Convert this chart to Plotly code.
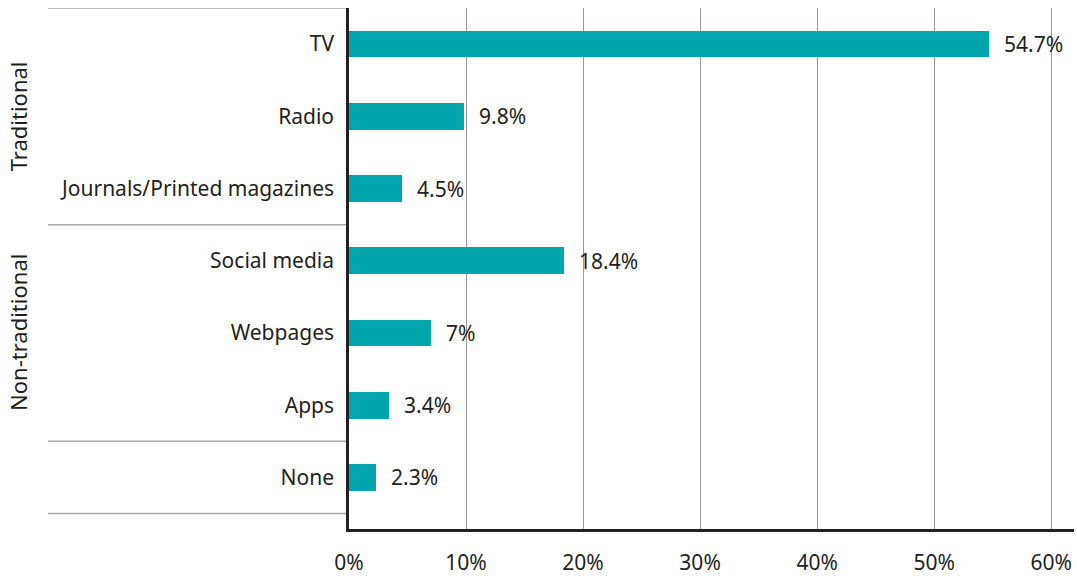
import plotly.graph_objects as go

# Media sources, top to bottom
categories = ["TV", "Radio", "Journals/Printed magazines",
              "Social media", "Webpages", "Apps", "None"]
shares = [54.7, 9.8, 4.5, 18.4, 7, 3.4, 2.3]

# Group labels and the category-index boundaries between groups
groups = ["Traditional", "Non-traditional"]
group_bounds = [(-0.5, 2.5), (2.5, 5.5)]
separators = [-0.5, 2.5, 5.5, 6.5]

x_ticks = [0, 10, 20, 30, 40, 50, 60]
x_tick_labels = [f"{t}%" for t in x_ticks]

BAR = "#00A5AD"
TEXT = "#231F20"
FONT = "Noto Sans"
FS = 21

fig = go.Figure()
fig.add_trace(go.Bar(
    x=shares, y=categories, orientation="h",
    marker=dict(color=BAR, line=dict(width=0)),
    width=0.37, hoverinfo="skip",
))

# Value labels right of each bar
for cat, v in zip(categories, shares):
    fig.add_annotation(
        x=v, y=cat, text=f"{v:g}%", showarrow=False,
        xanchor="left", yanchor="middle", xshift=13,
        font=dict(family=FONT, size=FS, color=TEXT),
    )

# Horizontal separators in the label column
L = 349
W = 1077 - L - 3
x0_paper = (48 - L) / W
for yb in separators:
    fig.add_shape(type="line", xref="paper", yref="y",
                  x0=x0_paper, x1=0, y0=yb, y1=yb,
                  line=dict(color="#AAAAAA", width=1.5), layer="below")

# Rotated group labels
for name, (a, b) in zip(groups, group_bounds):
    fig.add_annotation(
        xref="paper", yref="y", x=(18 - L) / W, y=(a + b) / 2,
        text=name, textangle=-90, showarrow=False,
        xanchor="center", yanchor="middle",
        font=dict(family=FONT, size=22, color=TEXT),
    )

fig.update_layout(
    width=1077, height=579,
    margin=dict(l=L, r=3, t=8, b=47),
    paper_bgcolor="white", plot_bgcolor="white",
    showlegend=False, bargap=0,
    font=dict(family=FONT, size=FS, color=TEXT),
    xaxis=dict(
        range=[0, 61.95], tickvals=x_ticks, ticktext=x_tick_labels,
        showgrid=True, gridcolor="#9A9A9A", gridwidth=1,
        zeroline=False, showline=True, linecolor="#222222", linewidth=2.5,
        ticks="outside", ticklen=13, tickcolor="rgba(0,0,0,0)",
        tickfont=dict(family=FONT, size=FS, color=TEXT),
        fixedrange=True,
    ),
    yaxis=dict(
        type="category", categoryorder="array", categoryarray=categories,
        range=[6.714, -0.5], showgrid=False, zeroline=False,
        showline=True, linecolor="#222222", linewidth=2.5,
        ticks="outside", ticklen=8, tickcolor="rgba(0,0,0,0)",
        tickfont=dict(family=FONT, size=FS, color=TEXT),
        fixedrange=True,
    ),
)

fig.write_html("out.html")
